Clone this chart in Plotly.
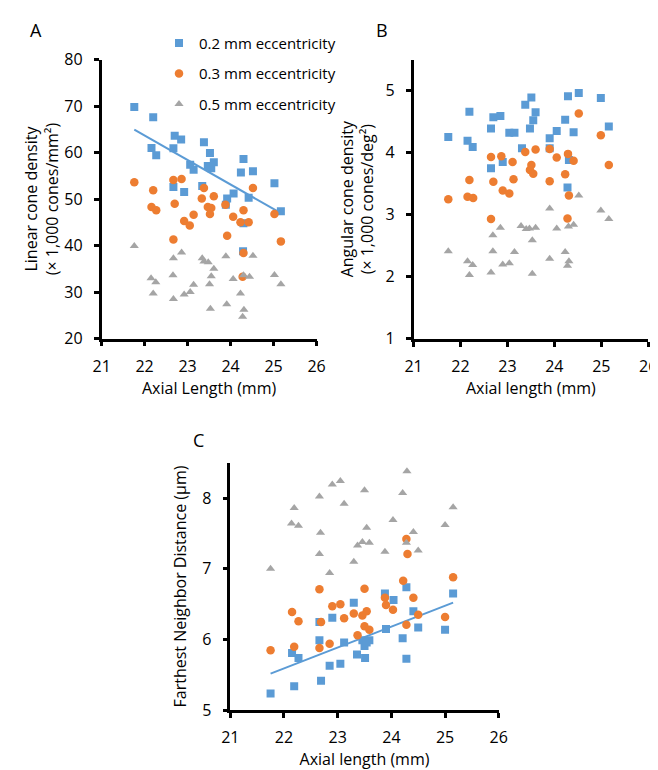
import numpy as np
import plotly.graph_objects as go

W, H = 658, 770
BLUE = "#5B9BD5"
ORANGE = "#ED7D31"
GRAY = "#A5A5A5"
FONT = "Open Sans"

series_names = ["0.2 mm eccentricity", "0.3 mm eccentricity", "0.5 mm eccentricity"]
x_ticks = [21, 22, 23, 24, 25, 26]

# ---------------- Panel A: linear cone density ----------------
A_blue_x = [21.76, 22.20, 22.16, 22.27, 22.70, 22.85, 22.67, 23.38, 23.52, 23.06, 23.14, 23.47, 23.55, 23.61,
            23.34, 22.67, 22.92, 24.30, 24.24, 24.52, 24.07, 23.92, 23.89, 24.42, 25.02, 25.17, 24.30, 24.29]
A_blue_y = [69.8, 67.6, 61.0, 59.4, 63.6, 62.8, 60.9, 62.2, 59.9, 57.4, 56.3, 57.1, 56.6, 57.9,
            52.8, 52.6, 51.5, 58.6, 55.7, 56.0, 51.2, 50.1, 48.8, 50.3, 53.4, 47.4, 44.8, 38.8]
A_orange_x = [21.76, 22.20, 22.16, 22.27, 22.67, 22.86, 22.70, 22.92, 23.05, 23.14, 23.38, 23.33, 23.61, 23.47,
              23.55, 23.52, 23.88, 24.06, 24.30, 24.23, 24.42, 24.52, 23.92, 22.67, 24.30, 25.02, 25.17, 24.28]
A_orange_y = [53.6, 51.9, 48.3, 47.6, 54.1, 54.3, 49.0, 45.3, 44.3, 46.6, 52.4, 50.1, 50.6, 48.3,
              48.1, 46.8, 48.8, 46.2, 47.6, 45.0, 45.0, 52.4, 42.1, 41.3, 38.4, 46.8, 40.9, 33.3]
A_gray_x = [21.76, 22.67, 22.86, 23.34, 23.38, 23.48, 23.61, 23.89, 24.52, 22.66, 22.15, 22.26, 22.20, 22.67,
            22.92, 23.06, 23.14, 23.55, 23.51, 23.53, 23.91, 24.06, 24.23, 24.30, 24.44, 24.31, 24.28, 25.02, 25.17]
A_gray_y = [39.9, 37.3, 38.5, 37.3, 36.6, 36.4, 35.0, 37.7, 37.8, 33.6, 33.0, 32.1, 29.7, 28.5,
            29.5, 30.0, 31.6, 33.4, 31.7, 26.4, 27.4, 32.8, 29.7, 33.6, 33.3, 26.2, 24.7, 33.7, 31.7]
A_y_ticks = [20, 30, 40, 50, 60, 70, 80]

# ---------------- Panel B: angular cone density ----------------
B_blue_x = [21.74, 22.19, 22.15, 22.26, 22.65, 22.70, 22.85, 22.65, 22.90, 23.04, 23.15, 23.31, 23.38, 23.51,
            23.60, 23.55, 23.48, 23.90, 24.05, 23.90, 24.23, 24.29, 24.28, 24.31, 24.52, 24.99, 24.41, 25.16]
B_blue_y = [4.25, 4.66, 4.19, 4.09, 4.39, 4.57, 4.59, 3.75, 3.85, 4.32, 4.32, 4.07, 4.77, 4.89,
            4.65, 4.52, 4.39, 4.23, 4.35, 4.07, 4.53, 4.91, 3.44, 3.88, 4.96, 4.88, 4.33, 4.42]
B_orange_x = [21.74, 22.19, 22.15, 22.27, 22.65, 22.70, 22.87, 22.90, 23.04, 23.13, 23.11, 23.38, 23.60, 23.48,
              23.55, 23.51, 23.90, 24.05, 23.90, 24.23, 24.29, 24.31, 22.65, 24.28, 24.52, 24.99, 25.16, 24.41]
B_orange_y = [3.25, 3.56, 3.29, 3.27, 3.93, 3.53, 3.94, 3.39, 3.34, 3.57, 3.85, 4.01, 4.05, 3.72,
              3.66, 3.80, 4.06, 3.92, 3.54, 3.65, 3.98, 3.31, 2.93, 2.94, 4.63, 4.28, 3.80, 3.87]
B_gray_x = [21.74, 22.69, 22.69, 22.85, 23.15, 23.29, 23.40, 23.47, 23.60, 23.53, 23.90, 24.05, 24.23, 24.30,
            22.15, 22.26, 22.19, 22.65, 22.90, 23.04, 23.53, 23.90, 24.31, 24.28, 24.52, 24.99, 25.16, 24.41]
B_gray_y = [2.41, 2.67, 2.41, 2.79, 2.40, 2.82, 2.77, 2.78, 2.79, 2.59, 3.10, 2.78, 2.40, 2.81,
            2.25, 2.19, 2.03, 2.07, 2.20, 2.22, 2.05, 2.29, 2.25, 2.18, 3.31, 3.07, 2.93, 2.84]
B_y_ticks = [1, 2, 3, 4, 5]

# ---------------- Panel C: farthest neighbor distance ----------------
C_blue_x = [21.75, 22.15, 22.27, 22.19, 22.66, 22.66, 22.69, 22.90, 22.85, 23.05, 23.12, 23.30, 23.36, 23.51,
            23.50, 23.46, 23.59, 23.54, 23.88, 24.04, 23.90, 24.28, 24.21, 24.28, 24.41, 24.50, 25.00, 25.15]
C_blue_y = [5.24, 5.81, 5.74, 5.34, 6.25, 5.99, 5.42, 6.31, 5.63, 5.66, 5.96, 6.52, 5.79, 5.74,
            5.91, 5.99, 5.99, 5.96, 6.65, 6.56, 6.15, 6.74, 6.02, 5.73, 6.40, 6.17, 6.14, 6.65]
C_orange_x = [24.28, 24.30, 24.22, 25.15, 22.66, 23.50, 21.75, 22.15, 22.27, 22.19, 22.69, 22.66, 22.85, 22.90,
              23.05, 23.12, 23.30, 23.46, 23.54, 23.50, 23.59, 23.37, 23.88, 23.90, 24.03, 24.41, 24.50, 24.28, 25.00]
C_orange_y = [7.42, 7.21, 6.83, 6.88, 6.71, 6.72, 5.85, 6.39, 6.26, 5.90, 6.25, 5.88, 5.94, 6.47,
              6.50, 6.30, 6.37, 6.34, 6.40, 6.19, 6.14, 6.06, 6.59, 6.49, 6.42, 6.59, 6.35, 6.21, 6.32]
C_gray_x = [21.75, 22.19, 22.14, 22.27, 22.66, 22.68, 22.66, 22.90, 23.05, 23.12, 22.85, 23.30, 23.50, 23.54,
            23.37, 23.46, 23.59, 23.88, 24.03, 24.21, 24.29, 24.28, 24.41, 24.50, 25.00, 25.15]
C_gray_y = [7.00, 7.86, 7.64, 7.61, 8.02, 7.51, 7.21, 8.19, 8.24, 7.92, 6.94, 7.10, 8.11, 7.58,
            7.33, 7.38, 7.37, 7.24, 7.69, 8.07, 8.38, 7.37, 7.52, 7.26, 7.62, 7.87]
C_y_ticks = [5, 6, 7, 8]

fig = go.Figure()


def add_panel(xa, ya, bx, by, ox, oy, gx, gy, trend, legend):
    fig.add_trace(go.Scatter(x=bx, y=by, mode="markers", name=series_names[0], legendgroup="g1",
                             showlegend=legend, xaxis=xa, yaxis=ya,
                             marker=dict(symbol="square", size=8, color=BLUE)))
    if trend:
        k, b = np.polyfit(bx, by, 1)
        tx = np.array([min(bx), max(bx)])
        fig.add_trace(go.Scatter(x=tx, y=k * tx + b, mode="lines", showlegend=False, xaxis=xa, yaxis=ya,
                                 line=dict(color=BLUE, width=2), hoverinfo="skip"))
    fig.add_trace(go.Scatter(x=ox, y=oy, mode="markers", name=series_names[1], legendgroup="g2",
                             showlegend=legend, xaxis=xa, yaxis=ya,
                             marker=dict(symbol="circle", size=8.5, color=ORANGE)))
    fig.add_trace(go.Scatter(x=gx, y=gy, mode="markers", name=series_names[2], legendgroup="g3",
                             showlegend=legend, xaxis=xa, yaxis=ya,
                             marker=dict(symbol="triangle-up", size=8, color=GRAY)))


add_panel("x", "y", A_blue_x, A_blue_y, A_orange_x, A_orange_y, A_gray_x, A_gray_y, True, True)
add_panel("x2", "y2", B_blue_x, B_blue_y, B_orange_x, B_orange_y, B_gray_x, B_gray_y, False, False)
add_panel("x3", "y3", C_blue_x, C_blue_y, C_orange_x, C_orange_y, C_gray_x, C_gray_y, True, False)

tickfont = dict(size=16, color="black", family=FONT)
titlefont = dict(size=16, color="black", family=FONT)
base = dict(showline=True, linecolor="black", linewidth=2.5, ticks="outside", ticklen=5, tickwidth=2.5,
            tickcolor="black", showgrid=False, zeroline=False, tickfont=tickfont)
over = dict(showline=False, ticks="inside", ticklen=5, tickwidth=2.5, tickcolor="black",
            showgrid=False, zeroline=False, showticklabels=False)


def dx(a, b):
    return [a / W, b / W]


def dy(top, bottom):
    return [1 - bottom / H, 1 - top / H]


layout_axes = dict(
    xaxis=dict(base, domain=dx(87, 308), anchor="y", range=[21, 26], tickvals=x_ticks, ticklabelstandoff=6,
               title=dict(text="Axial Length (mm)", font=titlefont, standoff=2)),
    yaxis=dict(base, domain=dy(41.7, 329), anchor="x", range=[20, 80], tickvals=A_y_ticks, ticklabelstandoff=8,
               title=dict(text="Linear cone density<br>(× 1,000 cones/mm²)", font=titlefont, standoff=2)),
    xaxis2=dict(base, domain=dx(407.7, 649), anchor="y2", range=[21, 26], tickvals=x_ticks, ticklabelstandoff=6,
                title=dict(text="Axial length (mm)", font=titlefont, standoff=2)),
    yaxis2=dict(base, domain=dy(41.7, 329.3), anchor="x2", range=[1, 5.5], tickvals=B_y_ticks, ticklabelstandoff=8,
                title=dict(text="Angular cone density<br>(× 1,000 cones/deg²)", font=titlefont, standoff=8)),
    xaxis3=dict(base, domain=dx(219.3, 495.3), anchor="y3", range=[21, 26], tickvals=x_ticks, ticklabelstandoff=6,
                title=dict(text="Axial length (mm)", font=titlefont, standoff=0)),
    yaxis3=dict(base, domain=dy(456.7, 711.7), anchor="x3", range=[5, 8.5], tickvals=C_y_ticks, ticklabelstandoff=8,
                title=dict(text="Farthest Neighbor Distance (µm)", font=titlefont, standoff=12)),
    xaxis4=dict(over, overlaying="x", anchor="y", range=[21, 26], tickvals=x_ticks),
    yaxis4=dict(over, overlaying="y", anchor="x", range=[20, 80], tickvals=A_y_ticks),
    xaxis5=dict(over, overlaying="x2", anchor="y2", range=[21, 26], tickvals=x_ticks),
    yaxis5=dict(over, overlaying="y2", anchor="x2", range=[1, 5.5], tickvals=B_y_ticks),
    xaxis6=dict(over, overlaying="x3", anchor="y3", range=[21, 26], tickvals=x_ticks),
    yaxis6=dict(over, overlaying="y3", anchor="x3", range=[5, 8.5], tickvals=C_y_ticks),
)

letter_font = dict(size=18, family=FONT, color="black")
fig.update_layout(
    width=W, height=H,
    margin=dict(l=0, r=0, t=0, b=0),
    paper_bgcolor="white", plot_bgcolor="white",
    font=dict(family=FONT, color="black"),
    showlegend=True,
    legend=dict(x=146 / W, y=1 - 8 / H, xanchor="left", yanchor="top", tracegroupgap=8,
                font=dict(size=15, family=FONT, color="black"), bgcolor="rgba(0,0,0,0)"),
    annotations=[
        dict(text="A", x=20 / W, y=1 - 11 / H, xref="paper", yref="paper", showarrow=False,
             xanchor="center", yanchor="middle", font=letter_font),
        dict(text="B", x=375 / W, y=1 - 11 / H, xref="paper", yref="paper", showarrow=False,
             xanchor="center", yanchor="middle", font=letter_font),
        dict(text="C", x=187 / W, y=1 - 433 / H, xref="paper", yref="paper", showarrow=False,
             xanchor="center", yanchor="middle", font=letter_font),
    ],
    **layout_axes,
)

fig.write_html("out.html")
